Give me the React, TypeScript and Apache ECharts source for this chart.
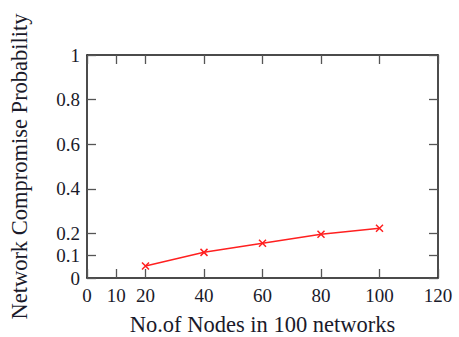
import React, { useEffect, useRef } from "react";
import * as echarts from "echarts";

const nodes = [20, 40, 60, 80, 100];
const probability = [0.054, 0.115, 0.156, 0.196, 0.223];
const xTicks = [0, 10, 20, 40, 60, 80, 100, 120];
const yTicks = [0, 0.1, 0.2, 0.4, 0.6, 0.8, 1];

const FONT = "Liberation Serif";
const TEXT = "#1a1a2a";

export default function App() {
  const ref = useRef<HTMLDivElement>(null);
  useEffect(() => {
    if (!ref.current) return;
    const chart = echarts.init(ref.current, null, { renderer: "svg" });
    const axisLine = { show: true, onZero: false, lineStyle: { color: "#111", width: 1.5 } };
    const tick = (vals: number[]) => ({
      show: true,
      inside: true,
      length: 9,
      customValues: vals,
      lineStyle: { color: "#555", width: 1.3 },
    });
    chart.setOption({
      animation: false,
      backgroundColor: "#fff",
      grid: { left: 87, right: 21, top: 55, bottom: 59, containLabel: false, outerBoundsMode: "none" },
      xAxis: [
        {
          type: "value",
          min: 0,
          max: 120,
          position: "bottom",
          name: "No.of Nodes in 100 networks",
          nameLocation: "middle",
          nameGap: 35,
          nameTextStyle: { fontFamily: FONT, fontSize: 22.5, color: TEXT },
          axisLine,
          axisTick: tick(xTicks),
          axisLabel: {
            customValues: xTicks,
            fontFamily: FONT,
            fontSize: 19,
            color: TEXT,
            margin: 8,
          },
          splitLine: { show: false },
        },
        {
          type: "value",
          min: 0,
          max: 120,
          position: "top",
          axisLine,
          axisTick: tick(xTicks),
          axisLabel: { show: false },
          splitLine: { show: false },
        },
      ],
      yAxis: [
        {
          type: "value",
          min: 0,
          max: 1,
          position: "left",
          name: "Network Compromise Probability",
          nameLocation: "middle",
          nameGap: 56,
          nameTextStyle: { fontFamily: FONT, fontSize: 22.5, color: TEXT },
          axisLine,
          axisTick: tick(yTicks),
          axisLabel: {
            customValues: yTicks,
            fontFamily: FONT,
            fontSize: 19,
            color: TEXT,
            margin: 7,
          },
          splitLine: { show: false },
        },
        {
          type: "value",
          min: 0,
          max: 1,
          position: "right",
          axisLine,
          axisTick: tick(yTicks),
          axisLabel: { show: false },
          splitLine: { show: false },
        },
      ],
      series: [
        {
          type: "line",
          data: nodes.map((n, i) => [n, probability[i]]),
          symbol: "path://M0,0L10,10M10,0L0,10",
          symbolSize: 7,
          lineStyle: { color: "#ff2020", width: 1.5 },
          itemStyle: { color: "#ff2020", borderColor: "#ff2020", borderWidth: 1.5 },
          showSymbol: true,
        },
      ],
    });
    return () => chart.dispose();
  }, []);
  return <div ref={ref} style={{ width: 459, height: 337, position: "absolute", left: 0, top: 0 }} />;
}
